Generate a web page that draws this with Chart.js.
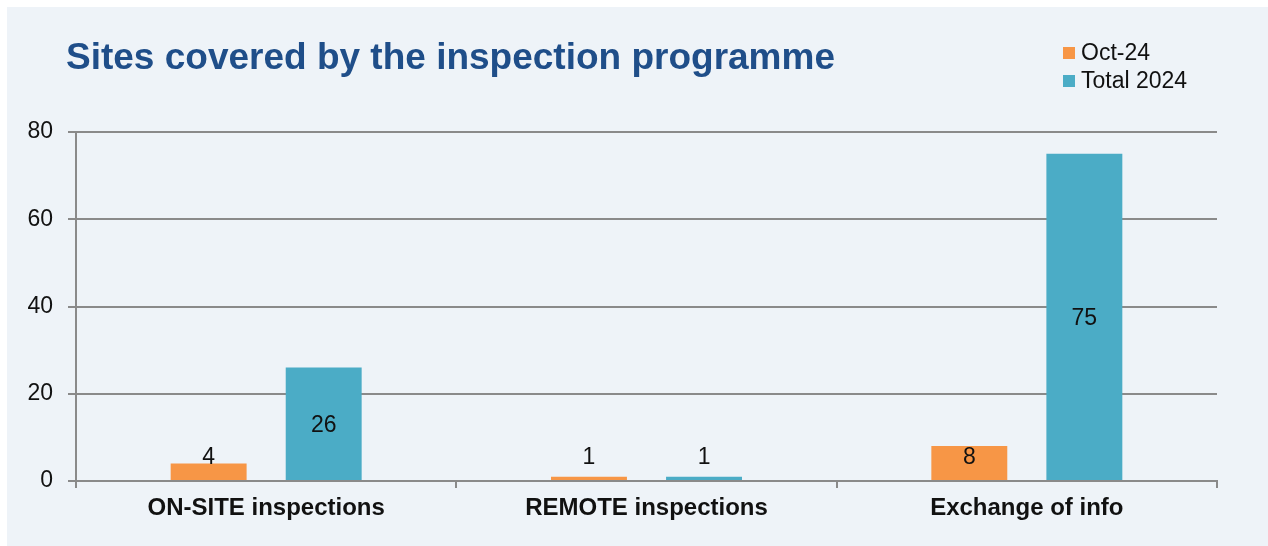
<!DOCTYPE html>
<html>
<head>
<meta charset="utf-8">
<script src="https://cdn.jsdelivr.net/npm/chart.js@4"></script>
<style>
  html, body { margin: 0; padding: 0; background: #ffffff; }
  #wrap { width: 1268px; height: 546px; position: relative; }
</style>
</head>
<body>
<div id="wrap"><canvas id="c" width="1268" height="546"></canvas></div>
<script>
const chartTitle = 'Sites covered by the inspection programme';
const categories = ['ON-SITE inspections', 'REMOTE inspections', 'Exchange of info'];
const seriesNames = ['Oct-24', 'Total 2024'];
const octValues = [4, 1, 8];
const totalValues = [26, 1, 75];
const yTicks = [0, 20, 40, 60, 80];

const FONT = "'Liberation Sans', Arial, sans-serif";
const PANEL = '#EEF3F8';
const GRID = '#8a8a8a';

const decor = {
  id: 'decor',
  beforeDraw(chart) {
    const ctx = chart.ctx;
    ctx.save();
    ctx.fillStyle = '#ffffff';
    ctx.fillRect(0, 0, chart.width, chart.height);
    ctx.fillStyle = PANEL;
    ctx.fillRect(7, 7, chart.width - 7, chart.height - 7);
    ctx.restore();
  },
  afterDatasetsDraw(chart) {
    const ctx = chart.ctx;
    const y = chart.scales.y;
    const base = y.getPixelForValue(0);
    ctx.save();
    ctx.font = '23px ' + FONT;
    ctx.fillStyle = '#111';
    ctx.textAlign = 'center';
    ctx.textBaseline = 'middle';
    chart.data.datasets.forEach((ds, di) => {
      const meta = chart.getDatasetMeta(di);
      meta.data.forEach((bar, i) => {
        const v = ds.data[i];
        let ly;
        if (ds.labelPos === 'base') {
          ly = base - 24;
        } else {
          ly = Math.min((bar.y + base) / 2, base - 24);
        }
        ctx.fillText(String(v), bar.x, ly + 1);
      });
    });
    ctx.restore();
  },
  afterDraw(chart) {
    const ctx = chart.ctx;
    ctx.save();
    // title
    ctx.font = 'bold 37px ' + FONT;
    ctx.fillStyle = '#1F4E89';
    ctx.textAlign = 'left';
    ctx.textBaseline = 'alphabetic';
    ctx.fillText(chartTitle, 66, 69);
    // legend
    ctx.font = '23px ' + FONT;
    ctx.textBaseline = 'middle';
    chart.data.datasets.forEach((ds, di) => {
      const cy = 53 + di * 28;
      ctx.fillStyle = ds.backgroundColor;
      ctx.fillRect(1063, cy - 6, 12, 12);
      ctx.fillStyle = '#111';
      ctx.fillText(ds.label, 1081, cy + 1);
    });
    ctx.restore();
  }
};

new Chart(document.getElementById('c'), {
  type: 'bar',
  data: {
    labels: categories,
    datasets: [
      { label: seriesNames[0], data: octValues, backgroundColor: '#F79646', labelPos: 'base' },
      { label: seriesNames[1], data: totalValues, backgroundColor: '#4BACC6', labelPos: 'center' }
    ]
  },
  options: {
    responsive: false,
    animation: false,
    devicePixelRatio: 1,
    layout: { padding: { top: 132, left: 0, right: 51, bottom: 0 } },
    plugins: { legend: { display: false }, title: { display: false }, tooltip: { enabled: false } },
    datasets: { bar: { categoryPercentage: 0.605, barPercentage: 0.66 } },
    scales: {
      x: {
        offset: true,
        grid: { offset: true, drawOnChartArea: false, drawTicks: true, tickLength: 7, color: GRID, lineWidth: 2 },
        border: { display: true, color: GRID, width: 2 },
        ticks: { font: { family: FONT, size: 24, weight: 'bold' }, color: '#111', padding: 6 },
        afterFit(scale) { scale.height = 65; }
      },
      y: {
        min: 0, max: 80,
        afterBuildTicks(scale) { scale.ticks = yTicks.map(v => ({ value: v })); },
        grid: { color: GRID, lineWidth: 2, tickLength: 8, drawTicks: true },
        border: { display: true, color: GRID, width: 2 },
        ticks: { font: { family: FONT, size: 23 }, color: '#111', padding: 15 },
        afterFit(scale) { scale.width = 76; }
      }
    }
  },
  plugins: [decor]
});
</script>
</body>
</html>
